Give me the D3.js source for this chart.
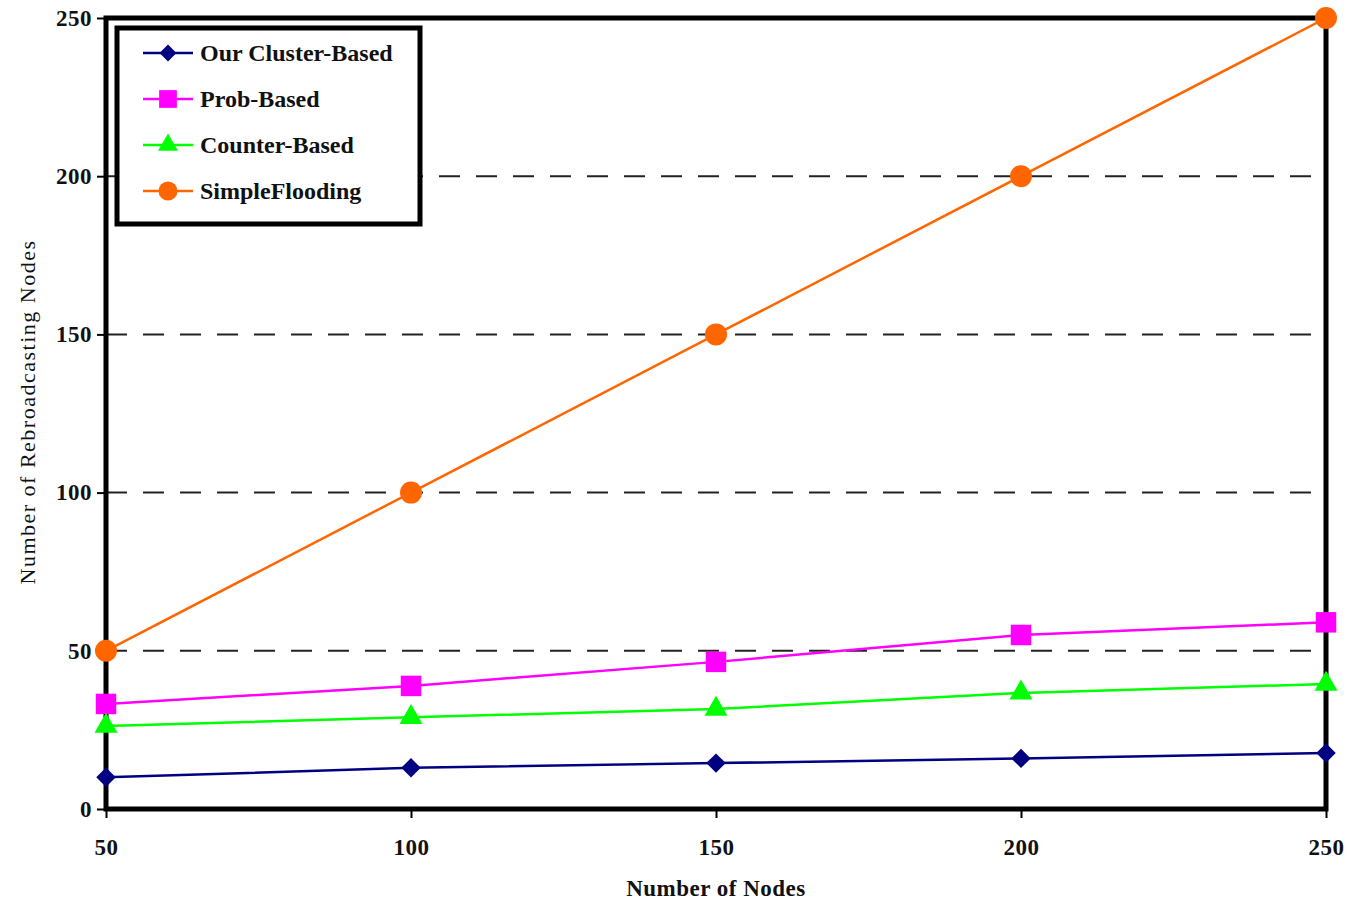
<!DOCTYPE html>
<html>
<head>
<meta charset="utf-8">
<script src="https://cdn.jsdelivr.net/npm/d3@7"></script>
<style>
  body { margin: 0; background: #fff; }
  text { font-family: "Liberation Serif", "Times New Roman", serif; }
</style>
</head>
<body>
<div id="chart"></div>
<script>
var nodes = [50, 100, 150, 200, 250];
var yTicks = [0, 50, 100, 150, 200, 250];
var gridValues = [50, 100, 150, 200];

var clusterBased = [10, 13, 14.5, 16, 17.7];
var probBased = [33.2, 38.9, 46.5, 55, 59];
var counterBased = [26.2, 29, 31.6, 36.7, 39.5];
var simpleFlooding = [50, 100, 150, 200, 250];

var seriesNames = ["Our Cluster-Based", "Prob-Based", "Counter-Based", "SimpleFlooding"];
var seriesColors = ["#000080", "#ff00ff", "#00ff00", "#ff6600"];
var seriesShapes = [d3.symbolSquare, d3.symbolSquare, d3.symbolTriangle, d3.symbolCircle];
var seriesRotate = [45, 0, 0, 0];
var seriesSizes = [190, 420, 230, 380];
var seriesValues = [clusterBased, probBased, counterBased, simpleFlooding];

var width = 1351, height = 903;
var margin = { top: 18, right: 25, bottom: 94, left: 106 };

var svg = d3.select("#chart").append("svg")
    .attr("width", width)
    .attr("height", height);

var x = d3.scaleLinear().domain([50, 250]).range([margin.left, width - margin.right]);
var y = d3.scaleLinear().domain([0, 250]).range([height - margin.bottom, margin.top]);

// dashed grid lines
svg.append("g").selectAll("line")
    .data(gridValues)
    .enter()
    .append("line")
    .attr("x1", x(50))
    .attr("x2", x(250))
    .attr("y1", d => y(d))
    .attr("y2", d => y(d))
    .attr("stroke", "#222")
    .attr("stroke-width", 2)
    .attr("stroke-dasharray", "21,16");

// frame
svg.append("rect")
    .attr("x", x(50))
    .attr("y", y(250))
    .attr("width", x(250) - x(50))
    .attr("height", y(0) - y(250))
    .attr("fill", "none")
    .attr("stroke", "#000")
    .attr("stroke-width", 5);

// y axis
var yAxis = svg.append("g")
    .attr("transform", "translate(" + x(50) + ",0)")
    .call(d3.axisLeft(y).tickValues(yTicks).tickSize(9).tickPadding(5));
yAxis.select(".domain").remove();
yAxis.selectAll("line").attr("stroke", "#000").attr("stroke-width", 2);
yAxis.selectAll("text")
    .style("font-family", "Liberation Serif")
    .style("font-size", "23px")
    .style("font-weight", "bold")
    .style("letter-spacing", "0.5px")
    .attr("fill", "#111");

// x axis
var xAxis = svg.append("g")
    .attr("transform", "translate(0," + y(0) + ")")
    .call(d3.axisBottom(x).tickValues(nodes).tickSize(9).tickPadding(21));
xAxis.select(".domain").remove();
xAxis.selectAll("line").attr("stroke", "#000").attr("stroke-width", 2);
xAxis.selectAll("text")
    .style("font-family", "Liberation Serif")
    .style("font-size", "23px")
    .style("font-weight", "bold")
    .style("letter-spacing", "0.5px")
    .attr("fill", "#111");

// axis titles
svg.append("text")
    .attr("x", (x(50) + x(250)) / 2)
    .attr("y", 896)
    .attr("text-anchor", "middle")
    .style("font-size", "23px")
    .style("font-weight", "bold")
    .style("letter-spacing", "0.5px")
    .attr("fill", "#111")
    .text("Number of Nodes");

svg.append("text")
    .attr("transform", "translate(35," + 412 + ") rotate(-90)")
    .attr("text-anchor", "middle")
    .style("font-size", "22px")
    .style("letter-spacing", "1.5px")
    .attr("fill", "#111")
    .text("Number of Rebroadcasting Nodes");

// series lines and markers
var line = d3.line()
    .x((d, i) => x(nodes[i]))
    .y(d => y(d));

seriesValues.forEach(function (vals, s) {
    svg.append("path")
        .datum(vals)
        .attr("d", line)
        .attr("fill", "none")
        .attr("stroke", seriesColors[s])
        .attr("stroke-width", 2.5);
});

seriesValues.forEach(function (vals, s) {
    svg.append("g").selectAll("path")
        .data(vals)
        .enter()
        .append("path")
        .attr("transform", (d, i) => "translate(" + x(nodes[i]) + "," + y(d) + ") rotate(" + seriesRotate[s] + ")")
        .attr("d", d3.symbol().type(seriesShapes[s]).size(seriesSizes[s]))
        .attr("fill", seriesColors[s]);
});

// legend
var legend = svg.append("g").attr("transform", "translate(117,28)");
legend.append("rect")
    .attr("width", 303)
    .attr("height", 196)
    .attr("fill", "#fff")
    .attr("stroke", "#000")
    .attr("stroke-width", 5);

seriesNames.forEach(function (name, s) {
    var ly = 25 + s * 46;
    legend.append("line")
        .attr("x1", 26).attr("x2", 76)
        .attr("y1", ly).attr("y2", ly)
        .attr("stroke", seriesColors[s])
        .attr("stroke-width", 2.5);
    legend.append("path")
        .attr("transform", "translate(51," + ly + ") rotate(" + seriesRotate[s] + ")")
        .attr("d", d3.symbol().type(seriesShapes[s]).size(seriesSizes[s] * 0.75))
        .attr("fill", seriesColors[s]);
    legend.append("text")
        .attr("x", 83)
        .attr("y", ly + 8)
        .style("font-size", "24px")
        .style("font-weight", "bold")
        .attr("fill", "#111")
        .text(name);
});
</script>
</body>
</html>
